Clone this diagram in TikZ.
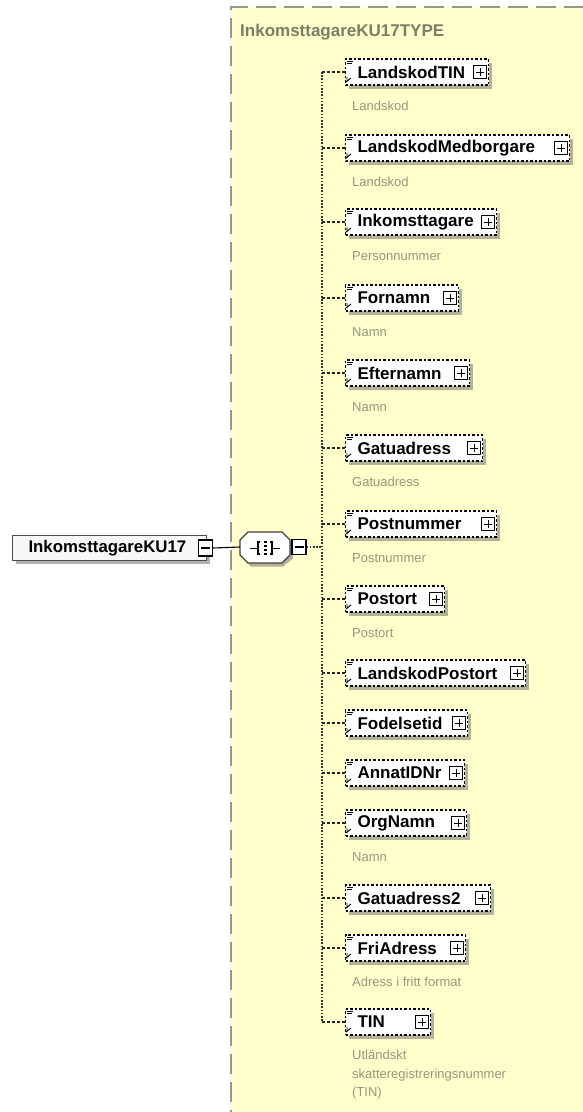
\documentclass[tikz,border=0pt]{standalone}
\usepackage{fontspec}
\setmainfont{Liberation Sans}
\usetikzlibrary{shadows}
\definecolor{bgyellow}{RGB}{255,255,204}
\definecolor{framecol}{RGB}{150,150,140}
\definecolor{titlecol}{RGB}{125,125,105}
\definecolor{labelcol}{RGB}{150,150,125}
\begin{document}
\begin{tikzpicture}[x=1pt,y=-1pt,
  shad/.style={drop shadow={shadow xshift=3pt,shadow yshift=-3.5pt,opacity=0.55,fill=black!55}},
  elbox/.style={draw=black,dash pattern=on 2.5pt off 2pt,line width=1.1pt,fill=white,anchor=west,
    minimum height=26pt,inner xsep=12pt,inner ysep=0pt,align=left,
    font=\fontsize{17}{18}\selectfont\bfseries,shad},
  rootbox/.style={draw=black!70,line width=1pt,fill=black!3,anchor=west,minimum height=25pt,
    inner xsep=16pt,inner ysep=0pt,align=left,font=\fontsize{16.8}{18}\selectfont\bfseries,shad},
  pm/.style={draw=black,line width=1.1pt,fill=white,minimum size=13pt,inner sep=0pt},
  plusbox/.style={pm,path picture={
    \draw[line width=1pt] ([xshift=-4pt]path picture bounding box.center) -- ([xshift=4pt]path picture bounding box.center);
    \draw[line width=1pt] ([yshift=-4pt]path picture bounding box.center) -- ([yshift=4pt]path picture bounding box.center);}},
  minusbox/.style={pm,path picture={
    \draw[line width=1.1pt] ([xshift=-4.5pt]path picture bounding box.center) -- ([xshift=4.5pt]path picture bounding box.center);}},
  lbl/.style={text=labelcol,font=\fontsize{13}{18.5}\selectfont,inner sep=0pt},
  vconn/.style={draw=black!80,line width=1.7pt,dash pattern=on 1.6pt off 1.6pt},
  branch/.style={draw=black!85,line width=1.3pt,dash pattern=on 3pt off 2pt},
]
\useasboundingbox (0,0) rectangle (583,1112);
% type frame
\fill[bgyellow] (231,7) rectangle (600,1130);
\draw[framecol,line width=1.5pt,dash pattern=on 20pt off 8pt] (231,1130) -- (231,7) -- (600,7);
\node[anchor=base west,text=titlecol,font=\fontsize{17}{20}\selectfont\bfseries,inner sep=0pt] (title) at (240,36) {InkomsttagareKU17TYPE};

% root element
\node[rootbox,minimum width=194pt,text width=162pt] (root) at (12,548) {InkomsttagareKU17};
\node[minusbox,minimum width=14pt,minimum height=16pt] (lm) at (205.5,548) {};
% sequence compositor
\node[minimum width=50pt,minimum height=30pt,inner sep=0pt] (seq) at (265,547) {};
\fill[black!55,opacity=0.55] (251,535.5) -- (283,535.5) -- (293,543.5) -- (293,558.5) -- (283,566.5) -- (251,566.5) -- (243,558.5) -- (243,543.5) -- cycle;
\filldraw[draw=black!75,fill=white,line width=1.1pt] (248,532) -- (282,532) -- (290,540) -- (290,555) -- (282,563) -- (248,563) -- (240,555) -- (240,540) -- cycle;
\draw[line width=1pt] (250,548) -- (258,548);
\draw[line width=1pt] (272,548) -- (280,548);
\draw[line width=1.1pt] (260,542) -- (258,542) -- (258,554) -- (260,554);
\draw[line width=1.1pt] (270,542) -- (272,542) -- (272,554) -- (270,554);
\foreach \yy in {542,546,550,554} \fill (263.5,\yy-1) rectangle (266.5,\yy+1);
\node[minusbox,minimum width=14pt,minimum height=15pt] (sm) at (299,547) {};
\draw[line width=1.1pt] (lm.east) -- (seq.west);
\coordinate (vt) at (322,72);
\coordinate (vb) at (322,1022);
\coordinate (vm) at (322,547);
\draw[vconn] (sm.east) -- (vm);
\draw[vconn] (vt) -- (vb);

% child elements
\foreach \i/\c/\r/\nm in {1/72/488/LandskodTIN,2/148/569/LandskodMedborgare,3/222/496/Inkomsttagare,
  4/298/458/Fornamn,5/373/469/Efternamn,6/448/482/Gatuadress,7/524/496/Postnummer,8/599/444/Postort,
  9/673/525/LandskodPostort,10/723/467/Fodelsetid,11/773/464/AnnatIDNr,12/823/466/OrgNamn,
  13/898/490/Gatuadress2,14/948/465/FriAdress,15/1022/430/TIN}{
  \pgfmathsetmacro\bw{\r-345}
  \pgfmathsetmacro\tw{\r-369}
  \node[elbox,minimum width=\bw pt,text width=\tw pt] (e\i) at (345,\c) {\nm};
  \node[plusbox] (p\i) at (\r-8,\c) {};
  \coordinate (b\i) at (322,\c);
  \draw[branch] (b\i) -- (e\i.west);
  \draw[line width=0.9pt] (347,\c-11) -- (353,\c-11) (347,\c-8.5) -- (352,\c-8.5);
  \draw[line width=0.9pt] (347,\c+5) -- (347,\c+10) (346,\c+10) -- (351,\c+6);
}
% annotations
\foreach \i/\c/\t in {1/72/Landskod,2/148/Landskod,3/222/Personnummer,4/298/Namn,5/373/Namn,
  6/448/Gatuadress,7/524/Postnummer,8/599/Postort,12/823/Namn,14/948/Adress i fritt format}{
  \node[lbl,anchor=base west] (a\i) at (352,\c+38) {\t};
}
\node[lbl,anchor=north west,align=left] (a15) at (352,1050) {Utländskt\\skatteregistreringsnummer\\(TIN)};
\end{tikzpicture}
\end{document}
